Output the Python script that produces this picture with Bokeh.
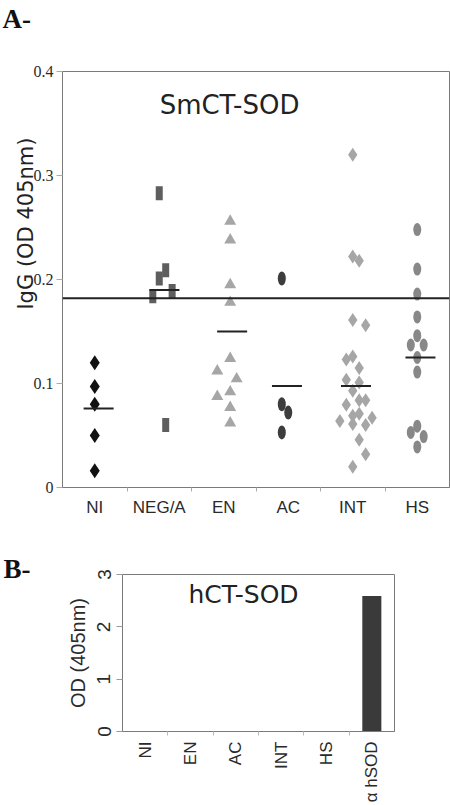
import math
from bokeh.plotting import figure
from bokeh.models import FixedTicker, Span, Label, Range1d, Title
from bokeh.embed import file_html
from bokeh.resources import INLINE

# ---------------- Panel A data ----------------
groups = ["NI", "NEG/A", "EN", "AC", "INT", "HS"]
y_ticks = [0, 0.1, 0.2, 0.3, 0.4]
y_tick_labels = ["0", "0.1", "0.2", "0.3", "0.4"]

ni_vals = [0.120, 0.097, 0.080, 0.050, 0.016]
ni_jit = [0.0, 0.0, 0.0, 0.0, 0.0]
neg_vals = [0.283, 0.201, 0.209, 0.189, 0.184, 0.060]
neg_jit = [0.0, 0.0, 0.1, 0.2, -0.1, 0.1]
en_vals = [0.256, 0.238, 0.195, 0.178, 0.124, 0.112, 0.1045, 0.0875, 0.092, 0.077, 0.062]
en_jit = [0.1, 0.1, 0.1, 0.1, 0.1, -0.1, 0.2, -0.1, 0.1, 0.1, 0.1]
ac_vals = [0.201, 0.080, 0.072, 0.053]
ac_jit = [-0.1, -0.1, 0.0, -0.1]
int_vals = [0.320, 0.222, 0.218, 0.161, 0.156, 0.123, 0.126, 0.115, 0.1035, 0.101,
            0.093, 0.084, 0.084, 0.0795, 0.071, 0.069, 0.067, 0.064, 0.061, 0.060,
            0.046, 0.032, 0.020]
int_jit = [0.0, 0.0, 0.1, 0.0, 0.2, -0.1, 0.0, 0.1, -0.1, 0.1,
           0.0, 0.2, 0.1, -0.1, 0.1, 0.0, 0.3, -0.2, 0.0, 0.2,
           0.1, 0.2, 0.0]
hs_vals = [0.248, 0.210, 0.186, 0.164, 0.146, 0.137, 0.137, 0.125, 0.111,
           0.059, 0.053, 0.049, 0.039]
hs_jit = [0.0, 0.0, 0.0, 0.0, 0.0, -0.1, 0.1, 0.0, 0.0, 0.0, -0.1, 0.1, 0.0]

mean_vals = [0.076, 0.190, 0.150, 0.0975, 0.0975, 0.125]
mean_off = [0.06, 0.08, 0.13, -0.02, 0.05, 0.05]
cutoff = 0.182

# ---------------- Panel B data ----------------
b_cats = ["NI", "EN", "AC", "INT", "HS", "\u03b1 hSOD"]
b_vals = [0.0, 0.0, 0.0, 0.0, 0.0, 2.59]
b_ticks = [0, 1, 2, 3]

AXIS_C = "#7a7a7a"
TXT_C = "#2a2a2a"

# ================= header strip with "A-" =================
p0 = figure(width=450, height=40, output_backend="svg", toolbar_location=None,
            title=None, x_axis_type=None, y_axis_type=None,
            x_range=Range1d(0, 450), y_range=Range1d(0, 40),
            min_border_left=0, min_border_right=0, min_border_top=0, min_border_bottom=0)
p0.grid.visible = False
p0.outline_line_color = None
p0.background_fill_color = "white"
p0.border_fill_color = "white"
p0.add_layout(Label(x=2, y=22, text="A-", text_align="left", text_baseline="alphabetic",
                    text_font="Liberation Serif", text_font_style="bold",
                    text_font_size="27px", text_color="#111111"))

# ================= Figure A =================
pa = figure(width=450, height=490, output_backend="svg", toolbar_location=None,
            x_range=Range1d(0, 6), y_range=Range1d(0, 0.4),
            min_border_left=62, min_border_right=1, min_border_top=31, min_border_bottom=43)
pa.xgrid.visible = False
pa.ygrid.visible = False
pa.outline_line_color = AXIS_C
pa.background_fill_color = "white"
pa.border_fill_color = "white"

centers = [i + 0.5 for i in range(len(groups))]

pa.xaxis.ticker = FixedTicker(ticks=centers, minor_ticks=[1, 2, 3, 4, 5])
pa.xaxis.major_label_overrides = {c: g for c, g in zip(centers, groups)}
pa.xaxis.major_tick_line_color = None
pa.xaxis.major_tick_out = 0
pa.xaxis.minor_tick_line_color = "#aaaaaa"
pa.xaxis.minor_tick_out = 4
pa.xaxis.minor_tick_in = 0
pa.xaxis.axis_line_color = AXIS_C
pa.xaxis.major_label_standoff = 6
pa.xaxis.major_label_text_font = "Liberation Sans"
pa.xaxis.major_label_text_font_size = "17px"
pa.xaxis.major_label_text_color = TXT_C

pa.yaxis.ticker = FixedTicker(ticks=y_ticks, minor_ticks=[])
pa.yaxis.major_label_overrides = {t: s for t, s in zip(y_ticks, y_tick_labels)}
pa.yaxis.major_tick_out = 6
pa.yaxis.major_tick_in = 0
pa.yaxis.major_tick_line_color = "#aaaaaa"
pa.yaxis.minor_tick_line_color = None
pa.yaxis.axis_line_color = AXIS_C
pa.yaxis.major_label_standoff = 3
pa.yaxis.major_label_text_font = "Liberation Sans Narrow"
pa.yaxis.major_label_text_font_size = "16px"
pa.yaxis.major_label_text_color = TXT_C


def xs(i, jit):
    return [i + 0.5 + j for j in jit]


pa.add_layout(Span(location=cutoff, dimension="width", line_color="#222222", line_width=2))

pa.scatter(xs(0, ni_jit), ni_vals, marker="diamond", size=15,
           fill_color="#111111", line_color=None)
pa.rect(xs(1, neg_jit), neg_vals, width=7, height=14, width_units="screen",
        height_units="screen", fill_color="#5e5e5e", line_color=None)
pa.scatter(xs(2, en_jit), en_vals, marker="triangle", size=12,
           fill_color="#a6a6a6", line_color=None)
pa.ellipse(xs(3, ac_jit), ac_vals, width=8, height=14, width_units="screen",
           height_units="screen", fill_color="#3d3d3d", line_color=None)
pa.scatter(xs(4, int_jit), int_vals, marker="diamond", size=14,
           fill_color="#a6a6a6", line_color=None)
pa.ellipse(xs(5, hs_jit), hs_vals, width=8, height=13, width_units="screen",
           height_units="screen", fill_color="#888888", line_color=None)

pa.scatter([c + o for c, o in zip(centers, mean_off)], mean_vals, marker="dash",
           size=30, line_color="#222222", line_width=2)

pa.add_layout(Label(x=2.59, y=0.368, text="SmCT-SOD", text_align="center",
                    text_baseline="middle", text_font="DejaVu Sans",
                    text_font_size="26px", text_color="#222222"))

igg_title = Title(text="IgG (OD 405nm)", align="right", offset=66,
                  vertical_align="bottom", standoff=0, text_font="DejaVu Sans",
                  text_font_style="normal", text_font_size="21px",
                  text_color="#222222")
try:
    igg_title.standoff = -14
except Exception:
    igg_title.standoff = 0
pa.add_layout(igg_title, "left")

# ================= Figure B =================
pb = figure(width=450, height=275, output_backend="svg", toolbar_location=None,
            x_range=Range1d(0, 6), y_range=Range1d(0, 3),
            min_border_left=122, min_border_right=56, min_border_top=44, min_border_bottom=71)
pb.xgrid.visible = False
pb.ygrid.visible = False
pb.outline_line_color = AXIS_C
pb.background_fill_color = "white"
pb.border_fill_color = "white"

b_centers = [i + 0.5 for i in range(len(b_cats))]
pb.vbar(x=b_centers, top=b_vals, width=0.42, fill_color="#3a3a3a", line_color=None)

pb.xaxis.ticker = FixedTicker(ticks=b_centers, minor_ticks=[1, 2, 3, 4, 5])
pb.xaxis.major_label_overrides = {c: g for c, g in zip(b_centers, b_cats)}
pb.xaxis.major_tick_line_color = None
pb.xaxis.major_tick_out = 0
pb.xaxis.minor_tick_line_color = "#bbbbbb"
pb.xaxis.minor_tick_out = 4
pb.xaxis.minor_tick_in = 0
pb.xaxis.axis_line_color = AXIS_C
pb.xaxis.major_label_orientation = math.pi / 2
pb.xaxis.major_label_standoff = 6
pb.xaxis.major_label_text_font = "Liberation Sans"
pb.xaxis.major_label_text_font_size = "17px"
pb.xaxis.major_label_text_color = TXT_C

pb.yaxis.ticker = FixedTicker(ticks=b_ticks, minor_ticks=[])
pb.yaxis.major_tick_out = 6
pb.yaxis.major_tick_in = 0
pb.yaxis.major_tick_line_color = "#999999"
pb.yaxis.minor_tick_line_color = None
pb.yaxis.axis_line_color = AXIS_C
pb.yaxis.major_label_orientation = "vertical"
pb.yaxis.major_label_standoff = 6
pb.yaxis.major_label_text_font = "Liberation Sans"
pb.yaxis.major_label_text_font_size = "19px"
pb.yaxis.major_label_text_color = TXT_C
pb.yaxis.axis_label = "OD (405nm)"
pb.yaxis.axis_label_text_font = "Liberation Sans"
pb.yaxis.axis_label_text_font_style = "normal"
pb.yaxis.axis_label_text_font_size = "20px"
pb.yaxis.axis_label_text_color = TXT_C
pb.yaxis.axis_label_standoff = 6

pb.add_layout(Label(x=2.67, y=2.61, text="hCT-SOD", text_align="center",
                    text_baseline="middle", text_font="DejaVu Sans",
                    text_font_size="25px", text_color="#222222"))

b_title = Title(text="B-", align="left", offset=-119, vertical_align="bottom",
                standoff=0, text_font="Liberation Serif", text_font_style="bold",
                text_font_size="27px", text_color="#111111")
try:
    b_title.standoff = -18
except Exception:
    b_title.standoff = 0
pb.add_layout(b_title, "above")

open("out.html", "w").write(file_html([p0, pa, pb], INLINE))
